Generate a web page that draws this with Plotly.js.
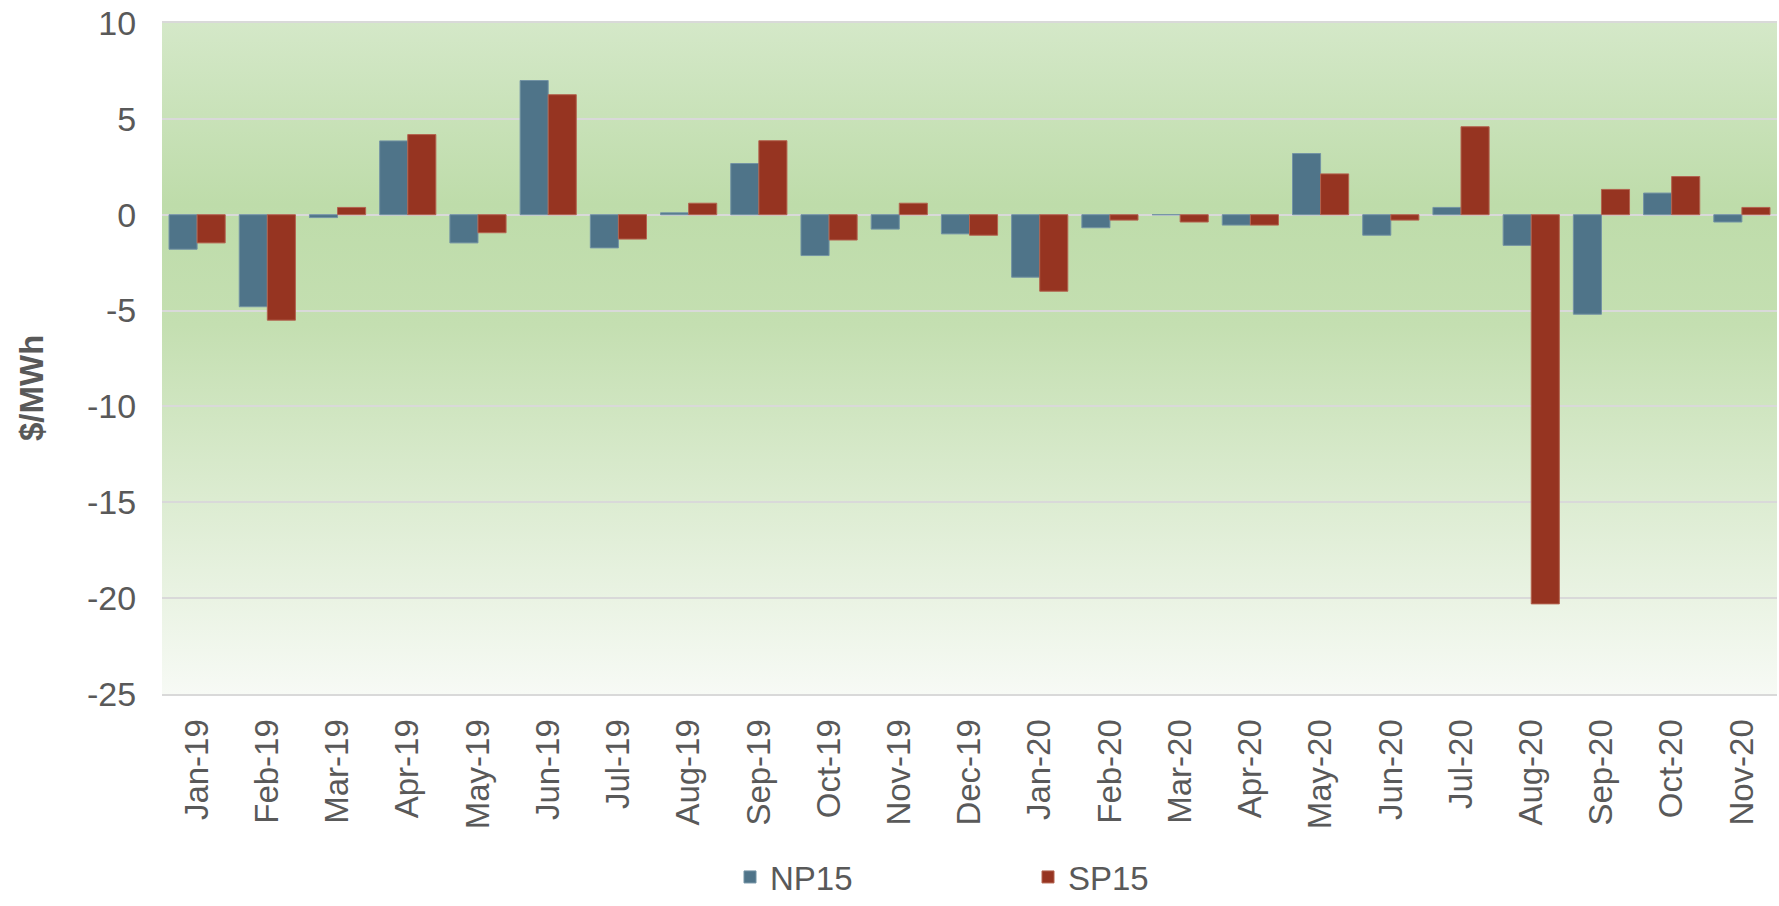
<!DOCTYPE html>
<html>
<head>
<meta charset="utf-8">
<script src="https://cdn.plot.ly/plotly-3.0.1.min.js"></script>
<style>
html,body{margin:0;padding:0;background:#fff;}
#chart{width:1779px;height:906px;}
</style>
</head>
<body>
<div id="chart"></div>
<script>
const months = ["Jan-19","Feb-19","Mar-19","Apr-19","May-19","Jun-19","Jul-19","Aug-19","Sep-19","Oct-19","Nov-19","Dec-19",
                "Jan-20","Feb-20","Mar-20","Apr-20","May-20","Jun-20","Jul-20","Aug-20","Sep-20","Oct-20","Nov-20"];
const np15 = [-1.8, -4.8, -0.15, 3.85, -1.47, 7.0, -1.73, 0.1, 2.67, -2.13, -0.75, -1.0,
              -3.26, -0.68, 0, -0.54, 3.19, -1.07, 0.38, -1.6, -5.19, 1.13, -0.38];
const sp15 = [-1.47, -5.5, 0.38, 4.18, -0.94, 6.26, -1.27, 0.6, 3.86, -1.32, 0.6, -1.07,
              -3.99, -0.28, -0.38, -0.54, 2.13, -0.28, 4.59, -20.3, 1.32, 1.99, 0.38];
const yTicks = [-25, -20, -15, -10, -5, 0, 5, 10];

const textColor = "#595959";
const font = "Liberation Sans, Arial, sans-serif";

const gradSvg = '<svg xmlns="http://www.w3.org/2000/svg" width="100" height="100" preserveAspectRatio="none">' +
  '<defs><linearGradient id="g" x1="0" y1="0" x2="0" y2="1">' +
  '<stop offset="0" stop-color="#d4e8c8"/>' +
  '<stop offset="0.27" stop-color="#bedcaa"/>' +
  '<stop offset="0.45" stop-color="#c4dfb1"/>' +
  '<stop offset="1" stop-color="#f7faf5"/>' +
  '</linearGradient></defs><rect width="100" height="100" fill="url(#g)"/></svg>';
const gradUri = "data:image/svg+xml;base64," + btoa(gradSvg);

const traces = [
  {type: "bar", name: "NP15", x: months, y: np15,
   marker: {color: "#4f7489", line: {color: "#7393a4", width: 1}}},
  {type: "bar", name: "SP15", x: months, y: sp15,
   marker: {color: "#963421", line: {color: "#b3634f", width: 1}}}
];

const layout = {
  width: 1779, height: 906,
  margin: {l: 162, r: 2, t: 23, b: 212, pad: 0, autoexpand: false},
  paper_bgcolor: "#ffffff",
  plot_bgcolor: "rgba(0,0,0,0)",
  barmode: "group",
  bargap: 0.2,
  bargroupgap: 0,
  font: {family: font, color: textColor, size: 33},
  showlegend: true,
  legend: {
    orientation: "h", x: (730 - 162) / 1615, xanchor: "left",
    y: -211 / 671, yanchor: "bottom",
    entrywidth: 253, entrywidthmode: "pixels",
    font: {family: font, size: 33, color: textColor},
    bgcolor: "rgba(0,0,0,0)", borderwidth: 0
  },
  xaxis: {
    type: "category",
    tickangle: -90,
    tickfont: {family: font, size: 33, color: textColor},
    ticks: "outside", ticklen: 10, tickcolor: "rgba(0,0,0,0)",
    showgrid: false, zeroline: false,
    showline: true, mirror: true, linecolor: "#d9d9d9", linewidth: 2
  },
  yaxis: {
    range: [-25, 10],
    tickvals: yTicks,
    ticktext: yTicks.map(String),
    tickfont: {family: font, size: 34, color: textColor},
    ticks: "outside", ticklen: 18, tickcolor: "rgba(0,0,0,0)",
    showgrid: true, gridcolor: "#d9d9d9", gridwidth: 2,
    zeroline: true, zerolinecolor: "#d9d9d9", zerolinewidth: 2,
    showline: false
  },
  images: [{
    source: gradUri, xref: "paper", yref: "paper",
    x: 0, y: 1, sizex: 1, sizey: 1, xanchor: "left", yanchor: "top",
    sizing: "stretch", layer: "below"
  }],
  annotations: [{
    text: "<b>$/MWh</b>", textangle: -90, showarrow: false,
    xref: "paper", yref: "paper", x: 0, y: (694 - 388) / 671,
    xanchor: "center", yanchor: "middle", xshift: -131,
    font: {family: font, size: 33, color: textColor}
  }]
};

Plotly.newPlot("chart", traces, layout, {displayModeBar: false, staticPlot: true});
</script>
</body>
</html>
